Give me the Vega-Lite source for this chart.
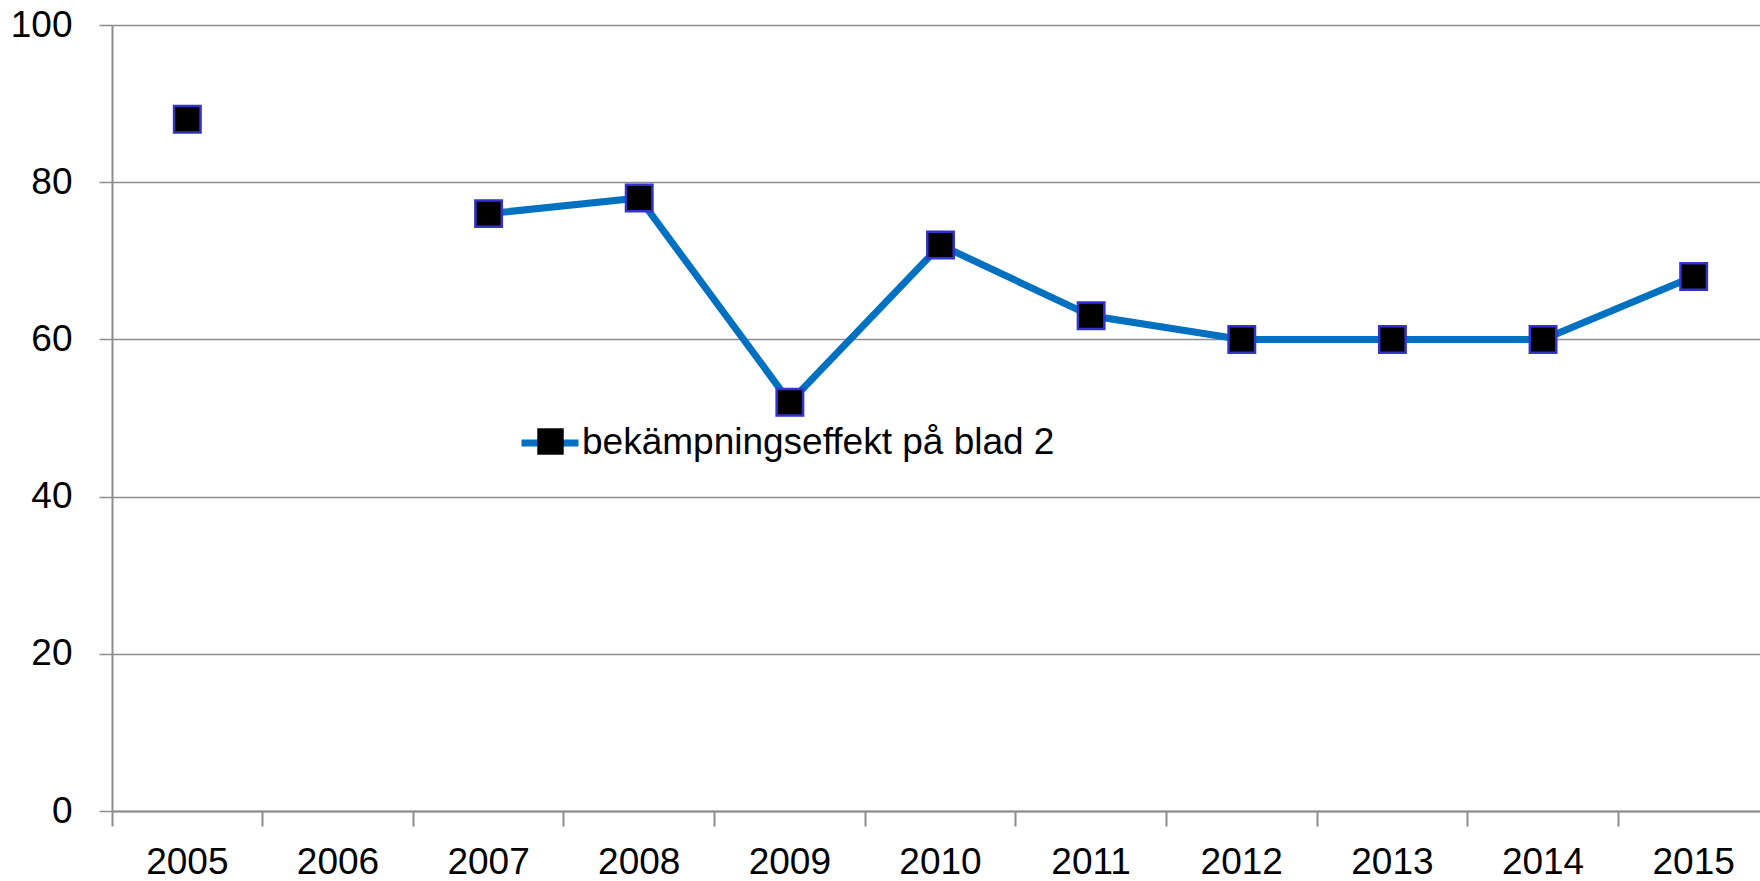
{
  "$schema": "https://vega.github.io/schema/vega-lite/v6.json",
  "autosize": {"type": "none"},
  "padding": {"left": 112, "top": 25, "right": 0, "bottom": 70},
  "width": 1657,
  "height": 786,
  "background": "white",
  "config": {
    "view": {"stroke": null},
    "font": "Liberation Sans",
    "axis": {"labelFont": "Liberation Sans", "labelColor": "#000000", "labelFontSize": 37}
  },
  "data": {
    "values": [
      {"year": "2005", "value": 88},
      {"year": "2006", "value": null},
      {"year": "2007", "value": 76},
      {"year": "2008", "value": 78},
      {"year": "2009", "value": 52},
      {"year": "2010", "value": 72},
      {"year": "2011", "value": 63},
      {"year": "2012", "value": 60},
      {"year": "2013", "value": 60},
      {"year": "2014", "value": 60},
      {"year": "2015", "value": 68}
    ]
  },
  "encoding": {
    "x": {
      "field": "year",
      "type": "ordinal",
      "scale": {"type": "band", "paddingInner": 0, "paddingOuter": 0, "domain": ["2005","2006","2007","2008","2009","2010","2011","2012","2013","2014","2015"]},
      "axis": {
        "title": null,
        "labelAngle": 0,
        "domainColor": "#8C8C8C",
        "domainWidth": 2,
        "tickColor": "#8C8C8C",
        "tickWidth": 2,
        "tickSize": 15,
        "bandPosition": 1,
        "tickExtra": true,
        "labelBaseline": "middle",
        "labelPadding": 36,
        "grid": false
      }
    },
    "y": {
      "field": "value",
      "type": "quantitative",
      "scale": {"domain": [0, 100], "nice": false, "zero": true},
      "axis": {
        "title": null,
        "values": [0, 20, 40, 60, 80, 100],
        "grid": true,
        "gridColor": "#8C8C8C",
        "gridWidth": 1.5,
        "domainColor": "#8C8C8C",
        "domainWidth": 2,
        "tickColor": "#8C8C8C",
        "tickWidth": 1.5,
        "tickSize": 13,
        "labelPadding": 27
      }
    }
  },
  "resolve": {"legend": {"color": "independent", "shape": "independent"}},
  "layer": [
    {
      "mark": {"type": "line", "strokeWidth": 7, "invalid": "break-paths-show-domains"},
      "encoding": {
        "color": {
          "datum": "bekämpningseffekt på blad 2",
          "scale": {"range": ["#0070C0"]},
          "legend": {
            "title": null,
            "orient": "none",
            "legendX": 406,
            "legendY": 386,
            "padding": 0,
            "offset": 0,
            "symbolType": "stroke",
            "symbolSize": 3249,
            "symbolStrokeWidth": 7,
            "labelFont": "Liberation Sans",
            "labelFontSize": 37,
            "labelColor": "#000000",
            "labelOffset": 0,
            "labelLimit": 1000
          }
        }
      }
    },
    {
      "mark": {"type": "point", "filled": true, "shape": "square", "size": 700, "fill": "#000000", "stroke": "#3333CC", "strokeWidth": 2.5, "opacity": 1},
      "encoding": {
        "shape": {
          "datum": "markör",
          "scale": {"range": ["square"]},
          "legend": {
            "title": null,
            "orient": "none",
            "legendX": 424,
            "legendY": 402,
            "padding": 0,
            "offset": 0,
            "symbolSize": 700,
            "symbolFillColor": "#000000",
            "symbolStrokeColor": "#3333CC",
            "symbolStrokeWidth": 2.5,
            "symbolOpacity": 1,
            "labelExpr": "''",
            "labelFontSize": 1
          }
        }
      }
    }
  ]
}
